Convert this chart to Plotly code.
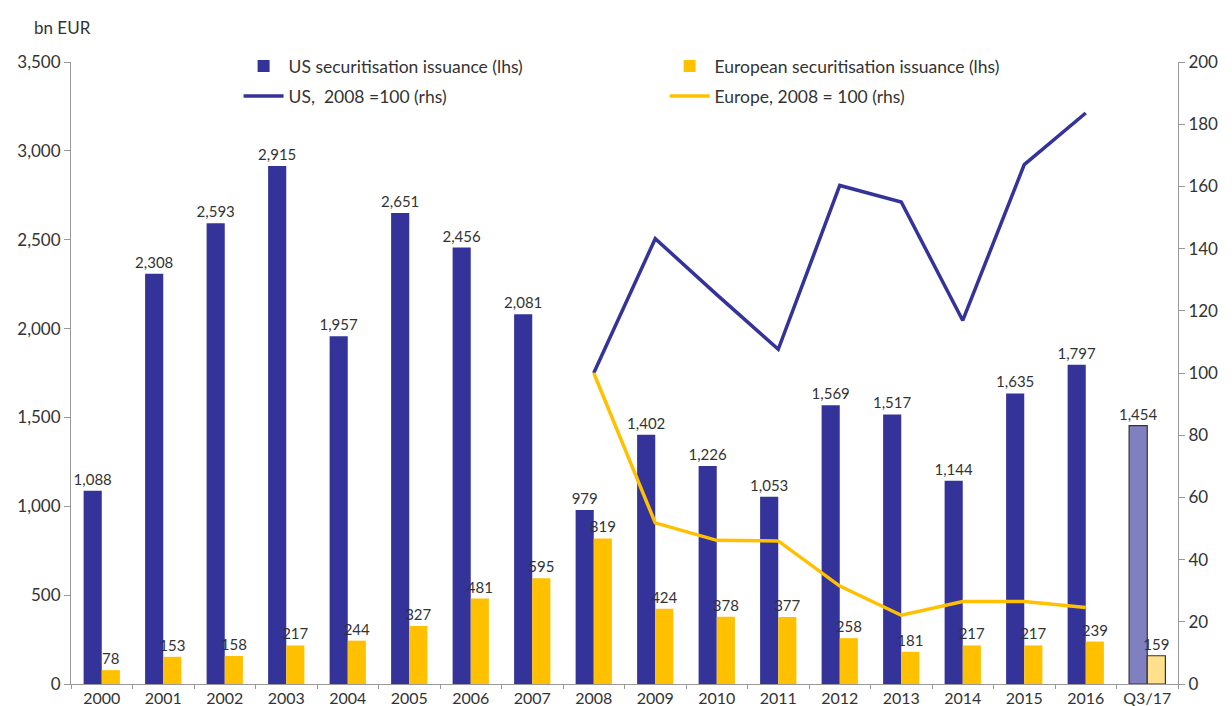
import plotly.graph_objects as go

# Issuance by year (bn EUR), last column is the year-to-date figure
years = ["2000", "2001", "2002", "2003", "2004", "2005", "2006", "2007", "2008",
         "2009", "2010", "2011", "2012", "2013", "2014", "2015", "2016", "Q3/17"]
us_issuance = [1088, 2308, 2593, 2915, 1957, 2651, 2456, 2081, 979,
               1402, 1226, 1053, 1569, 1517, 1144, 1635, 1797, 1454]
eu_issuance = [78, 153, 158, 217, 244, 327, 481, 595, 819,
               424, 378, 377, 258, 181, 217, 217, 239, 159]

# Index lines, 2008 = 100 (right-hand axis)
index_years = ["2008", "2009", "2010", "2011", "2012", "2013", "2014", "2015", "2016"]
us_index = [100, 143.2, 125.2, 107.6, 160.3, 155.0, 116.9, 167.0, 183.6]
eu_index = [100, 51.8, 46.2, 46.0, 31.5, 22.1, 26.5, 26.5, 24.6]

US_BLUE = "#333399"
EU_GOLD = "#FFC000"
US_LIGHT = "#8080C0"
EU_LIGHT = "#FFE08C"
TEXT = "#333333"
AXIS = "#999999"
FONT = "Lato, Open Sans, sans-serif"

n = len(years)
us_colors = [US_BLUE] * (n - 1) + [US_LIGHT]
eu_colors = [EU_GOLD] * (n - 1) + [EU_LIGHT]
edge_w = [0] * (n - 1) + [1.2]

label_font = dict(size=15, color=TEXT, family=FONT)

fig = go.Figure()

fig.add_trace(go.Bar(
    x=years, y=us_issuance, name="US securitisation issuance (lhs)",
    legend="legend",
    marker=dict(color=us_colors, line=dict(color="#333333", width=edge_w)),
    texttemplate="%{y:,}", textposition="outside", constraintext="none",
    textfont=label_font, cliponaxis=False,
))
fig.add_trace(go.Bar(
    x=years, y=eu_issuance, name="European securitisation issuance (lhs)",
    legend="legend",
    marker=dict(color=eu_colors, line=dict(color="#333333", width=edge_w)),
    texttemplate="%{y:,}", textposition="outside", constraintext="none",
    textfont=label_font, cliponaxis=False,
))
fig.add_trace(go.Scatter(
    x=index_years, y=us_index, name="US,  2008 =100 (rhs)", yaxis="y2",
    legend="legend2",
    mode="lines", line=dict(color=US_BLUE, width=3.5),
))
fig.add_trace(go.Scatter(
    x=index_years, y=eu_index, name="Europe, 2008 = 100 (rhs)", yaxis="y2",
    legend="legend2",
    mode="lines", line=dict(color=EU_GOLD, width=3.5),
))

legend_common = dict(
    orientation="h", xanchor="left", yanchor="top",
    entrywidth=371, entrywidthmode="pixels",
    font=dict(size=17.5, color=TEXT, family=FONT), bgcolor="rgba(0,0,0,0)",
    itemwidth=40,
)

fig.update_layout(
    width=1232, height=706,
    margin=dict(l=71, r=54, t=62, b=22, autoexpand=False),
    plot_bgcolor="white", paper_bgcolor="white",
    font=dict(family=FONT, size=17, color=TEXT),
    barmode="group", bargap=0.41, bargroupgap=0,
    showlegend=True,
    legend=dict(x=0.1514, y=1.0225, **legend_common),
    legend2=dict(x=0.1514, y=0.974, **legend_common),
    xaxis=dict(
        type="category", categoryorder="array", categoryarray=years,
        showline=True, linecolor=AXIS, linewidth=1,
        ticks="outside", tickson="boundaries", ticklen=4, tickcolor=AXIS,
        tickfont=dict(size=16, color=TEXT), showgrid=False, automargin=False,
    ),
    yaxis=dict(
        range=[0, 3500], dtick=500, tickformat=",",
        showline=True, linecolor=AXIS, linewidth=1,
        ticks="outside", ticklen=6, tickcolor=AXIS,
        tickfont=dict(size=17, color=TEXT), showgrid=False, zeroline=False,
        automargin=False,
    ),
    yaxis2=dict(
        range=[0, 200], dtick=20, overlaying="y", side="right",
        showline=True, linecolor=AXIS, linewidth=1,
        ticks="outside", ticklen=6, tickcolor=AXIS,
        tickfont=dict(size=17, color=TEXT), showgrid=False, zeroline=False,
        automargin=False,
    ),
    annotations=[dict(
        text="bn EUR", xref="paper", yref="paper", x=-0.008, y=1.035,
        xanchor="center", yanchor="bottom", showarrow=False,
        font=dict(size=17, color=TEXT),
    )],
)

fig.write_html("out.html")
